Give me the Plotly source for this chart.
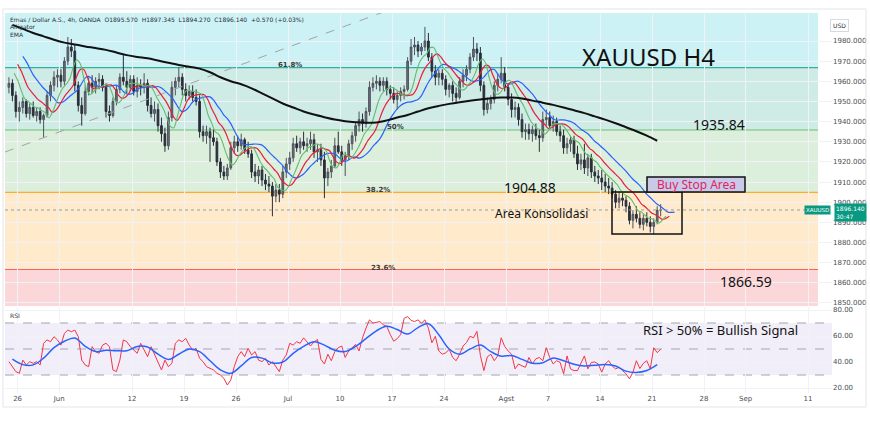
import numpy as np
import pandas as pd
import plotly.graph_objects as go

# ---------------- data ----------------
trade_days = pd.bdate_range("2023-05-25", "2023-08-21")  # 63 trading days, 3 bars per day

opens = [
    1957, 1959, 1953, 1945, 1947, 1950, 1944, 1947, 1943, 1945, 1941, 1943, 1953, 1958, 1962,
    1963, 1960, 1970, 1977, 1975, 1958, 1948, 1944, 1955, 1959, 1957, 1960, 1961, 1957, 1945,
    1943, 1950, 1956, 1962, 1960, 1957, 1961, 1955, 1958, 1957, 1959, 1948, 1944, 1946, 1938,
    1934, 1928, 1942, 1957, 1960, 1962, 1956, 1953, 1955, 1952, 1950, 1935, 1933, 1935, 1932,
    1930, 1920, 1915, 1913, 1917, 1927, 1930, 1928, 1931, 1926, 1924, 1915, 1913, 1916, 1911,
    1909, 1908, 1903, 1906, 1904, 1915, 1919, 1922, 1929, 1927, 1930, 1928, 1929, 1931, 1925,
    1926, 1921, 1912, 1915, 1918, 1928, 1925, 1921, 1923, 1929, 1933, 1938, 1941, 1939, 1945,
    1957, 1959, 1960, 1958, 1960, 1956, 1954, 1951, 1953, 1955, 1956, 1970, 1977, 1978, 1975,
    1977, 1980, 1972, 1965, 1962, 1964, 1961, 1956, 1958, 1954, 1952, 1960, 1963, 1966, 1972,
    1976, 1974, 1958, 1946, 1949, 1951, 1958, 1961, 1964, 1957, 1951, 1946, 1947, 1941, 1935,
    1936, 1934, 1936, 1933, 1932, 1941, 1942, 1938, 1940, 1935, 1933, 1927, 1929, 1931, 1924,
    1919, 1921, 1917, 1922, 1915, 1913, 1912, 1910, 1908, 1907, 1904, 1900, 1902, 1901, 1898,
    1891, 1894, 1892, 1889, 1892, 1890, 1888, 1890, 1896,
]
highs = [
    1962, 1961, 1955, 1950, 1952, 1951, 1949, 1950, 1947, 1947, 1944, 1955, 1960, 1965, 1966,
    1966, 1972, 1982, 1981, 1978, 1960, 1952, 1958, 1962, 1963, 1962, 1964, 1963, 1959, 1948,
    1952, 1958, 1964, 1973, 1965, 1963, 1963, 1962, 1961, 1964, 1961, 1952, 1950, 1949, 1942,
    1937, 1945, 1960, 1962, 1967, 1964, 1959, 1958, 1958, 1956, 1953, 1938, 1938, 1937, 1936,
    1932, 1922, 1918, 1919, 1930, 1933, 1933, 1934, 1932, 1930, 1926, 1919, 1918, 1918, 1914,
    1913, 1910, 1909, 1909, 1918, 1922, 1925, 1932, 1933, 1932, 1935, 1932, 1935, 1934, 1929,
    1929, 1925, 1917, 1921, 1932, 1935, 1928, 1925, 1931, 1935, 1940, 1945, 1944, 1947, 1960,
    1962, 1963, 1962, 1962, 1962, 1958, 1957, 1955, 1957, 1958, 1972, 1981, 1982, 1980, 1979,
    1987, 1984, 1974, 1968, 1966, 1966, 1963, 1959, 1960, 1957, 1962, 1966, 1968, 1974, 1982,
    1979, 1977, 1960, 1952, 1953, 1960, 1964, 1972, 1967, 1959, 1954, 1950, 1949, 1944, 1939,
    1939, 1938, 1939, 1936, 1945, 1946, 1945, 1943, 1942, 1938, 1936, 1932, 1933, 1933, 1928,
    1924, 1929, 1924, 1924, 1918, 1916, 1916, 1914, 1912, 1910, 1906, 1905, 1905, 1903, 1900,
    1896, 1898, 1895, 1894, 1895, 1893, 1892, 1898, 1899,
]
lows = [
    1954, 1950, 1942, 1940, 1944, 1942, 1941, 1942, 1940, 1939, 1932, 1942, 1950, 1955, 1957,
    1957, 1958, 1968, 1972, 1955, 1945, 1938, 1943, 1953, 1954, 1954, 1956, 1955, 1942, 1940,
    1942, 1948, 1954, 1958, 1954, 1955, 1953, 1952, 1953, 1954, 1945, 1942, 1940, 1935, 1930,
    1925, 1926, 1940, 1953, 1957, 1953, 1950, 1951, 1950, 1948, 1932, 1930, 1929, 1920, 1928,
    1918, 1912, 1911, 1911, 1916, 1924, 1925, 1926, 1924, 1922, 1912, 1910, 1909, 1908, 1906,
    1905, 1893, 1900, 1900, 1902, 1912, 1916, 1920, 1925, 1924, 1926, 1925, 1926, 1922, 1920,
    1918, 1902, 1908, 1912, 1917, 1924, 1918, 1913, 1921, 1926, 1930, 1935, 1935, 1937, 1943,
    1955, 1956, 1955, 1955, 1953, 1951, 1949, 1946, 1950, 1951, 1955, 1968, 1973, 1972, 1973,
    1975, 1970, 1962, 1958, 1958, 1958, 1953, 1952, 1950, 1949, 1951, 1957, 1960, 1964, 1970,
    1970, 1955, 1943, 1944, 1946, 1949, 1955, 1959, 1955, 1948, 1942, 1942, 1938, 1932, 1931,
    1931, 1930, 1931, 1925, 1930, 1938, 1936, 1935, 1933, 1930, 1924, 1924, 1925, 1922, 1916,
    1916, 1914, 1913, 1912, 1910, 1909, 1906, 1905, 1904, 1902, 1897, 1897, 1898, 1895, 1889,
    1887, 1890, 1887, 1886, 1888, 1885, 1884, 1889, 1893,
]
closes = [
    1959, 1953, 1945, 1947, 1950, 1944, 1947, 1943, 1945, 1941, 1943, 1953, 1958, 1962, 1963,
    1960, 1970, 1977, 1975, 1958, 1948, 1944, 1955, 1959, 1957, 1960, 1961, 1957, 1945, 1943,
    1950, 1956, 1962, 1960, 1957, 1961, 1955, 1958, 1957, 1959, 1948, 1944, 1946, 1938, 1934,
    1928, 1942, 1957, 1960, 1962, 1956, 1953, 1955, 1952, 1950, 1935, 1933, 1935, 1932, 1930,
    1920, 1915, 1913, 1917, 1927, 1930, 1928, 1931, 1926, 1924, 1915, 1913, 1916, 1911, 1909,
    1908, 1903, 1906, 1904, 1915, 1919, 1922, 1929, 1927, 1930, 1928, 1929, 1931, 1925, 1926,
    1921, 1912, 1915, 1918, 1928, 1925, 1921, 1923, 1929, 1933, 1938, 1941, 1939, 1945, 1957,
    1959, 1960, 1958, 1960, 1956, 1954, 1951, 1953, 1955, 1956, 1970, 1977, 1978, 1975, 1977,
    1980, 1972, 1965, 1962, 1964, 1961, 1956, 1958, 1954, 1952, 1960, 1963, 1966, 1972, 1976,
    1974, 1958, 1946, 1949, 1951, 1958, 1961, 1964, 1957, 1951, 1946, 1947, 1941, 1935, 1936,
    1934, 1936, 1933, 1932, 1941, 1942, 1938, 1940, 1935, 1933, 1927, 1929, 1931, 1924, 1919,
    1921, 1917, 1922, 1915, 1913, 1912, 1910, 1908, 1907, 1904, 1900, 1902, 1901, 1898, 1891,
    1894, 1892, 1889, 1892, 1890, 1888, 1890, 1896, 1896.14,
]
ema200 = [
    1988.0, 1986.0, 1984.0, 1982.3, 1980.6, 1979.2, 1978.3, 1977.3, 1976.5, 1975.6,
    1974.3, 1973.0, 1972.1, 1971.4, 1970.3, 1969.2, 1968.1, 1967.2, 1966.3, 1964.5,
    1962.0, 1960.0, 1958.5, 1956.5, 1954.0, 1951.5, 1949.0, 1947.0, 1945.0, 1943.5,
    1942.2, 1941.0, 1940.2, 1939.7, 1939.4, 1939.6, 1940.6, 1942.0, 1943.3, 1945.0,
    1946.6, 1947.8, 1948.8, 1949.6, 1950.3, 1951.0, 1951.6, 1951.9, 1952.0, 1951.5,
    1950.4, 1949.4, 1948.3, 1947.0, 1945.6, 1944.2, 1942.6, 1941.0, 1939.2, 1937.2,
    1935.2, 1933.0, 1930.5,
]
rsi = [
    40.3, 36.4, 32.6, 31.3, 41.5, 37.7, 40.3, 39, 40.3, 37.7,
    54.4, 57, 55.6, 59.5, 57, 53, 62, 64.6, 63.3, 64.6,
    59.5, 41.5, 37.7, 36.4, 51.8, 48, 46.7, 53, 54.4, 51.8,
    33.9, 32.6, 41.5, 57, 55.6, 51.8, 49.2, 46.7, 54.4, 49.2,
    44.1, 51.8, 45.4, 40.3, 33.9, 41.5, 36.4, 39, 54.4, 57,
    55.6, 58.2, 53, 49.2, 50.5, 42.8, 40.3, 36.4, 35.1, 33.9,
    31.3, 30, 27.4, 22.3, 26.2, 36.4, 44.1, 48, 44.1, 50.5,
    45.4, 48, 41.5, 40.3, 42.8, 37.7, 40.3, 36.4, 32.6, 41.5,
    45.4, 54.4, 53, 55.6, 54.4,
    58.6, 55, 52.3, 55.5, 57.3, 42, 38.5, 46, 41, 48,
    51, 52.3, 43.5, 48.5, 51, 53.5, 48.5, 58.6, 66.1, 72.4,
    69.9, 70.5, 71.1, 68.6, 67.4, 61.1, 56, 58, 61.1, 73.6,
    74.9, 72, 71.1, 72.4, 69.9, 72.4, 66, 54.8, 59.8, 48.5,
    46, 47, 49.8, 43.5, 41, 46, 52.3, 55, 59.8, 58.6,
    63.6, 45, 33.4, 44, 46, 41, 44.7, 58.6, 52, 48.5,
    46, 34.7, 38.5, 37, 36, 43.5, 38.5, 42.5, 43.5, 41,
    51, 43.5, 38.5, 41, 39.7, 30.9, 44.7, 34.7, 33.4, 33.4,
    38.5, 44.7, 34.7, 39.7, 40, 38.5, 32.2, 38.5, 41, 37,
    34.7, 36, 33.4, 31, 27, 32.2, 41, 35, 39, 41,
    34.7, 51, 47.2, 49.8,
]
rsi_ma = [
    42.2, 38, 37.8, 43, 51, 56, 58.5, 52, 48, 49,
    48.7, 48.7, 52, 51.5, 46, 42, 46, 50, 48, 41,
    34, 31.3, 37, 43.5, 43, 39.3, 40, 46.7, 52, 55.5,
    53, 49, 48, 52, 58, 64, 67.5, 65, 61.5, 66.5,
    69.5, 61, 50, 46, 50, 53, 48, 44.5, 45, 42,
    39, 39.5, 43, 41, 38.3, 37, 37.5, 38, 37, 33,
    32, 33.5, 38,
]
tick_dates = ["2023-05-26", "2023-06-01", "2023-06-12", "2023-06-19", "2023-06-26", "2023-07-03",
              "2023-07-10", "2023-07-17", "2023-07-24", "2023-08-01", "2023-08-07", "2023-08-14",
              "2023-08-21", "2023-08-28", "2023-09-01", "2023-09-11"]
tick_text = ["26", "Jun", "12", "19", "26", "Jul", "10", "17", "24", "Agst", "7", "14", "21", "28", "Sep", "11"]

fib_names = ["23.6%", "38.2%", "50%", "61.8%"]
fib_levels = [1866.59, 1904.88, 1935.84, 1966.79]
fib_colors = ["#f23645", "#ff9800", "#4caf50", "#089981", "#00bcd4"]
last_price = 1896.14

# ---------------- derived positions ----------------
BARS_PER_DAY = 3
start = trade_days[0].strftime("%Y-%m-%d")
n = len(closes)
bar_x = [(i + 0.5) / BARS_PER_DAY for i in range(n)]
day_x = [j + 0.5 for j in range(len(trade_days))]
ma_x = [bar_x[3 * k + 1] for k in range(len(rsi_ma))]
tick_pos = [float(np.busday_count(start, d)) for d in tick_dates]

# Alligator (SMMA of median price, shifted forward)
med = [(h + l) / 2 for h, l in zip(highs, lows)]

def smma(vals, period, seed):
    out, s = [], seed
    for v in vals:
        s = (s * (period - 1) + v) / period
        out.append(s)
    return out

jaw = smma(med, 6.5, 1975)
teeth = smma(med, 4, 1972)
lips = smma(med, 2.5, 1968)

# pixel helpers for annotation placement
def PX(px):
    return (px - 7.2) / 10.4

def PY(py):
    return 1980 - (py - 41) / 2.015

def RY(py):
    return 80 - (py - 310) * 0.769

L, R, T, B = 5, 832, 13, 393
def paper_x(px):
    return (px - L) / (R - L)

def paper_y(py):
    return (B - py) / (B - T)

xr = [PX(L), PX(R)]
yr = [PY(306), PY(T)]
rr = [RY(B), RY(307)]

fig = go.Figure()

# Fib background bands
fib_end = PX(818)
edges = [yr[0] - 5] + fib_levels + [yr[1] + 20]
for k in range(5):
    fig.add_shape(type="rect", xref="x", yref="y", x0=xr[0], x1=fib_end, y0=edges[k], y1=edges[k + 1],
                  fillcolor=fib_colors[k], opacity=0.2, line_width=0, layer="below")
for k, lv in enumerate(fib_levels):
    fig.add_shape(type="line", xref="x", yref="y", x0=xr[0], x1=fib_end, y0=lv, y1=lv,
                  line=dict(color=fib_colors[k], width=1.2), opacity=0.75, layer="below")

# RSI band
fig.add_shape(type="rect", xref="paper", yref="y2", x0=0, x1=1, y0=30, y1=70,
              fillcolor="rgba(126,87,194,0.10)", line_width=0, layer="below")
for lv in (70, 50, 30):
    fig.add_shape(type="line", xref="paper", yref="y2", x0=0, x1=1, y0=lv, y1=lv,
                  line=dict(color="#a3a6af", width=1, dash="dash"), layer="below")

# diagonal fib trend line (dashed)
fig.add_trace(go.Scatter(x=[PX(5), PX(460)], y=[PY(152), PY(152) + (460 - 5) * 0.37 / 2.015],
                         mode="lines", line=dict(color="#a0a4ab", width=1, dash="dash"),
                         hoverinfo="skip", xaxis="x", yaxis="y"))

# current price dotted line
fig.add_shape(type="line", xref="paper", yref="y", x0=0, x1=1, y0=last_price, y1=last_price,
              line=dict(color="#8fa0a0", width=1, dash="dot"))

# candles
fig.add_trace(go.Candlestick(
    x=bar_x, open=opens, high=highs, low=lows, close=closes, xaxis="x", yaxis="y",
    increasing=dict(line=dict(color="#4f535c", width=1), fillcolor="#6b6f78"),
    decreasing=dict(line=dict(color="#2a2e39", width=1), fillcolor="#2a2e39"),
    whiskerwidth=0, hoverinfo="skip"))

# Alligator
fig.add_trace(go.Scatter(x=[x + 4 / 3 for x in bar_x], y=jaw, mode="lines",
                         line=dict(color="#2962ff", width=1.2, shape="spline"), xaxis="x", yaxis="y"))
fig.add_trace(go.Scatter(x=[x + 5 / 6 for x in bar_x], y=teeth, mode="lines",
                         line=dict(color="#e91e3c", width=1.2, shape="spline"), xaxis="x", yaxis="y"))
fig.add_trace(go.Scatter(x=[x + 0.5 for x in bar_x], y=lips, mode="lines",
                         line=dict(color="#66bb6a", width=1.1, shape="spline"), xaxis="x", yaxis="y"))
# EMA 200
fig.add_trace(go.Scatter(x=day_x, y=ema200, mode="lines",
                         line=dict(color="#111111", width=2, shape="spline"), xaxis="x", yaxis="y"))

# RSI
fig.add_trace(go.Scatter(x=bar_x, y=rsi, mode="lines", line=dict(color="#f23645", width=1),
                         xaxis="x2", yaxis="y2"))
fig.add_trace(go.Scatter(x=ma_x, y=rsi_ma, mode="lines", line=dict(color="#2962ff", width=1.5, shape="spline"),
                         xaxis="x2", yaxis="y2"))

# boxes
fig.add_shape(type="rect", xref="x", yref="y", x0=PX(612), x1=PX(682), y0=PY(234), y1=PY(192),
              line=dict(color="#111111", width=1.5), fillcolor="rgba(0,0,0,0)")
fig.add_shape(type="rect", xref="x", yref="y", x0=PX(647), x1=PX(745), y0=PY(192), y1=PY(177),
              line=dict(color="#111111", width=1.5), fillcolor="#c9c9ea")

ann_font = "Noto Sans, Open Sans, sans-serif"
texts = [
    ("XAUUSD H4", PX(648), PY(56), 24, "#111111", "center"),
    ("1935.84", PX(719), PY(124), 14, "#111111", "center"),
    ("1904.88", PX(530), PY(187), 14, "#111111", "center"),
    ("Area Konsolidasi", PX(541), PY(213), 12, "#111111", "center"),
    ("1866.59", PX(746), PY(281), 14, "#111111", "center"),
    ("Buy Stop Area", PX(696), PY(184.5), 12, "#e0245e", "center"),
]
for t, x, y, s, c, a in texts:
    fig.add_annotation(text=t, x=x, y=y, xref="x", yref="y", showarrow=False,
                       font=dict(size=s, color=c, family=ann_font), xanchor=a, yanchor="middle")
fig.add_annotation(text="RSI > 50% = Bullish Signal", x=PX(720), y=RY(330), xref="x2", yref="y2",
                   showarrow=False, font=dict(size=13, color="#111111", family=ann_font))

fib_lbl_pos = [(383, 268), (378, 190), (395, 127), (290, 65)]
for name, (px, py) in zip(fib_names, fib_lbl_pos):
    fig.add_annotation(text="<b>" + name + "</b>", x=PX(px), y=PY(py), xref="x", yref="y", showarrow=False,
                       font=dict(size=7, color="#3a3a3a", family="DejaVu Sans"))

# header texts
small = dict(size=6, color="#2a2e39", family="DejaVu Sans")
fig.add_annotation(text="Emas / Dollar A.S., 4h, OANDA  O1895.570  H1897.345  L1894.270  C1896.140  +0.570 (+0.03%)",
                   x=paper_x(8), y=paper_y(19), xref="paper", yref="paper", showarrow=False,
                   xanchor="left", yanchor="middle", font=small)
fig.add_annotation(text="Alligator", x=paper_x(8), y=paper_y(27), xref="paper", yref="paper", showarrow=False,
                   xanchor="left", yanchor="middle", font=small)
fig.add_annotation(text="EMA", x=paper_x(8), y=paper_y(35), xref="paper", yref="paper", showarrow=False,
                   xanchor="left", yanchor="middle", font=small)
fig.add_annotation(text="RSI", x=paper_x(8), y=paper_y(315), xref="paper", yref="paper", showarrow=False,
                   xanchor="left", yanchor="middle", font=small)
fig.add_annotation(text="USD", x=paper_x(849), y=paper_y(19), xref="paper", yref="paper", showarrow=False,
                   font=dict(size=6, color="#2a2e39", family="DejaVu Sans"), bordercolor="#d6d9e0",
                   borderwidth=1, borderpad=2, bgcolor="white")
fig.add_annotation(text="XAUUSD", x=paper_x(831), y=last_price, xref="paper", yref="y", showarrow=False,
                   xanchor="right",
                   font=dict(size=5.5, color="white", family="DejaVu Sans"), bgcolor="#089981", borderpad=1)
fig.add_annotation(text="1896.140<br>30:47", x=paper_x(834), y=PY(212.5), xref="paper", yref="y",
                   showarrow=False, align="left", xanchor="left",
                   font=dict(size=6, color="white", family="DejaVu Sans"), bgcolor="#089981", borderpad=1)

# outer frame
fig.add_shape(type="rect", xref="paper", yref="paper", x0=paper_x(3), x1=paper_x(866),
              y0=paper_y(407), y1=paper_y(9), line=dict(color="#e3e5ea", width=1), fillcolor="rgba(0,0,0,0)")

tick_font = dict(size=7, color="#4a4d55", family="DejaVu Sans")
fig.update_layout(
    width=870, height=423, margin=dict(l=L, r=870 - R, t=T, b=423 - B),
    paper_bgcolor="white", plot_bgcolor="white", showlegend=False,
    xaxis=dict(domain=[0, 1], range=xr, anchor="y", showticklabels=False, tickvals=tick_pos,
               showgrid=True, gridcolor="#f1f2f5", zeroline=False, rangeslider=dict(visible=False),
               fixedrange=True),
    yaxis=dict(domain=[paper_y(306), 1], range=yr, side="right", anchor="x",
               tickvals=list(range(1850, 1990, 10)),
               ticktext=["%d.000" % v for v in range(1850, 1990, 10)],
               showgrid=True, gridcolor="#f1f2f5", zeroline=False, tickfont=tick_font, ticks=""),
    xaxis2=dict(domain=[0, 1], range=xr, anchor="y2", matches="x", tickvals=tick_pos, ticktext=tick_text,
                showgrid=True, gridcolor="#f1f2f5", zeroline=False, tickfont=tick_font, ticks=""),
    yaxis2=dict(domain=[0, paper_y(307)], range=rr, side="right", anchor="x2",
                tickvals=[20, 40, 60, 80], ticktext=["20.00", "40.00", "60.00", "80.00"],
                showgrid=True, gridcolor="#f1f2f5", zeroline=False, tickfont=tick_font, ticks=""),
)

fig.write_html("out.html")
